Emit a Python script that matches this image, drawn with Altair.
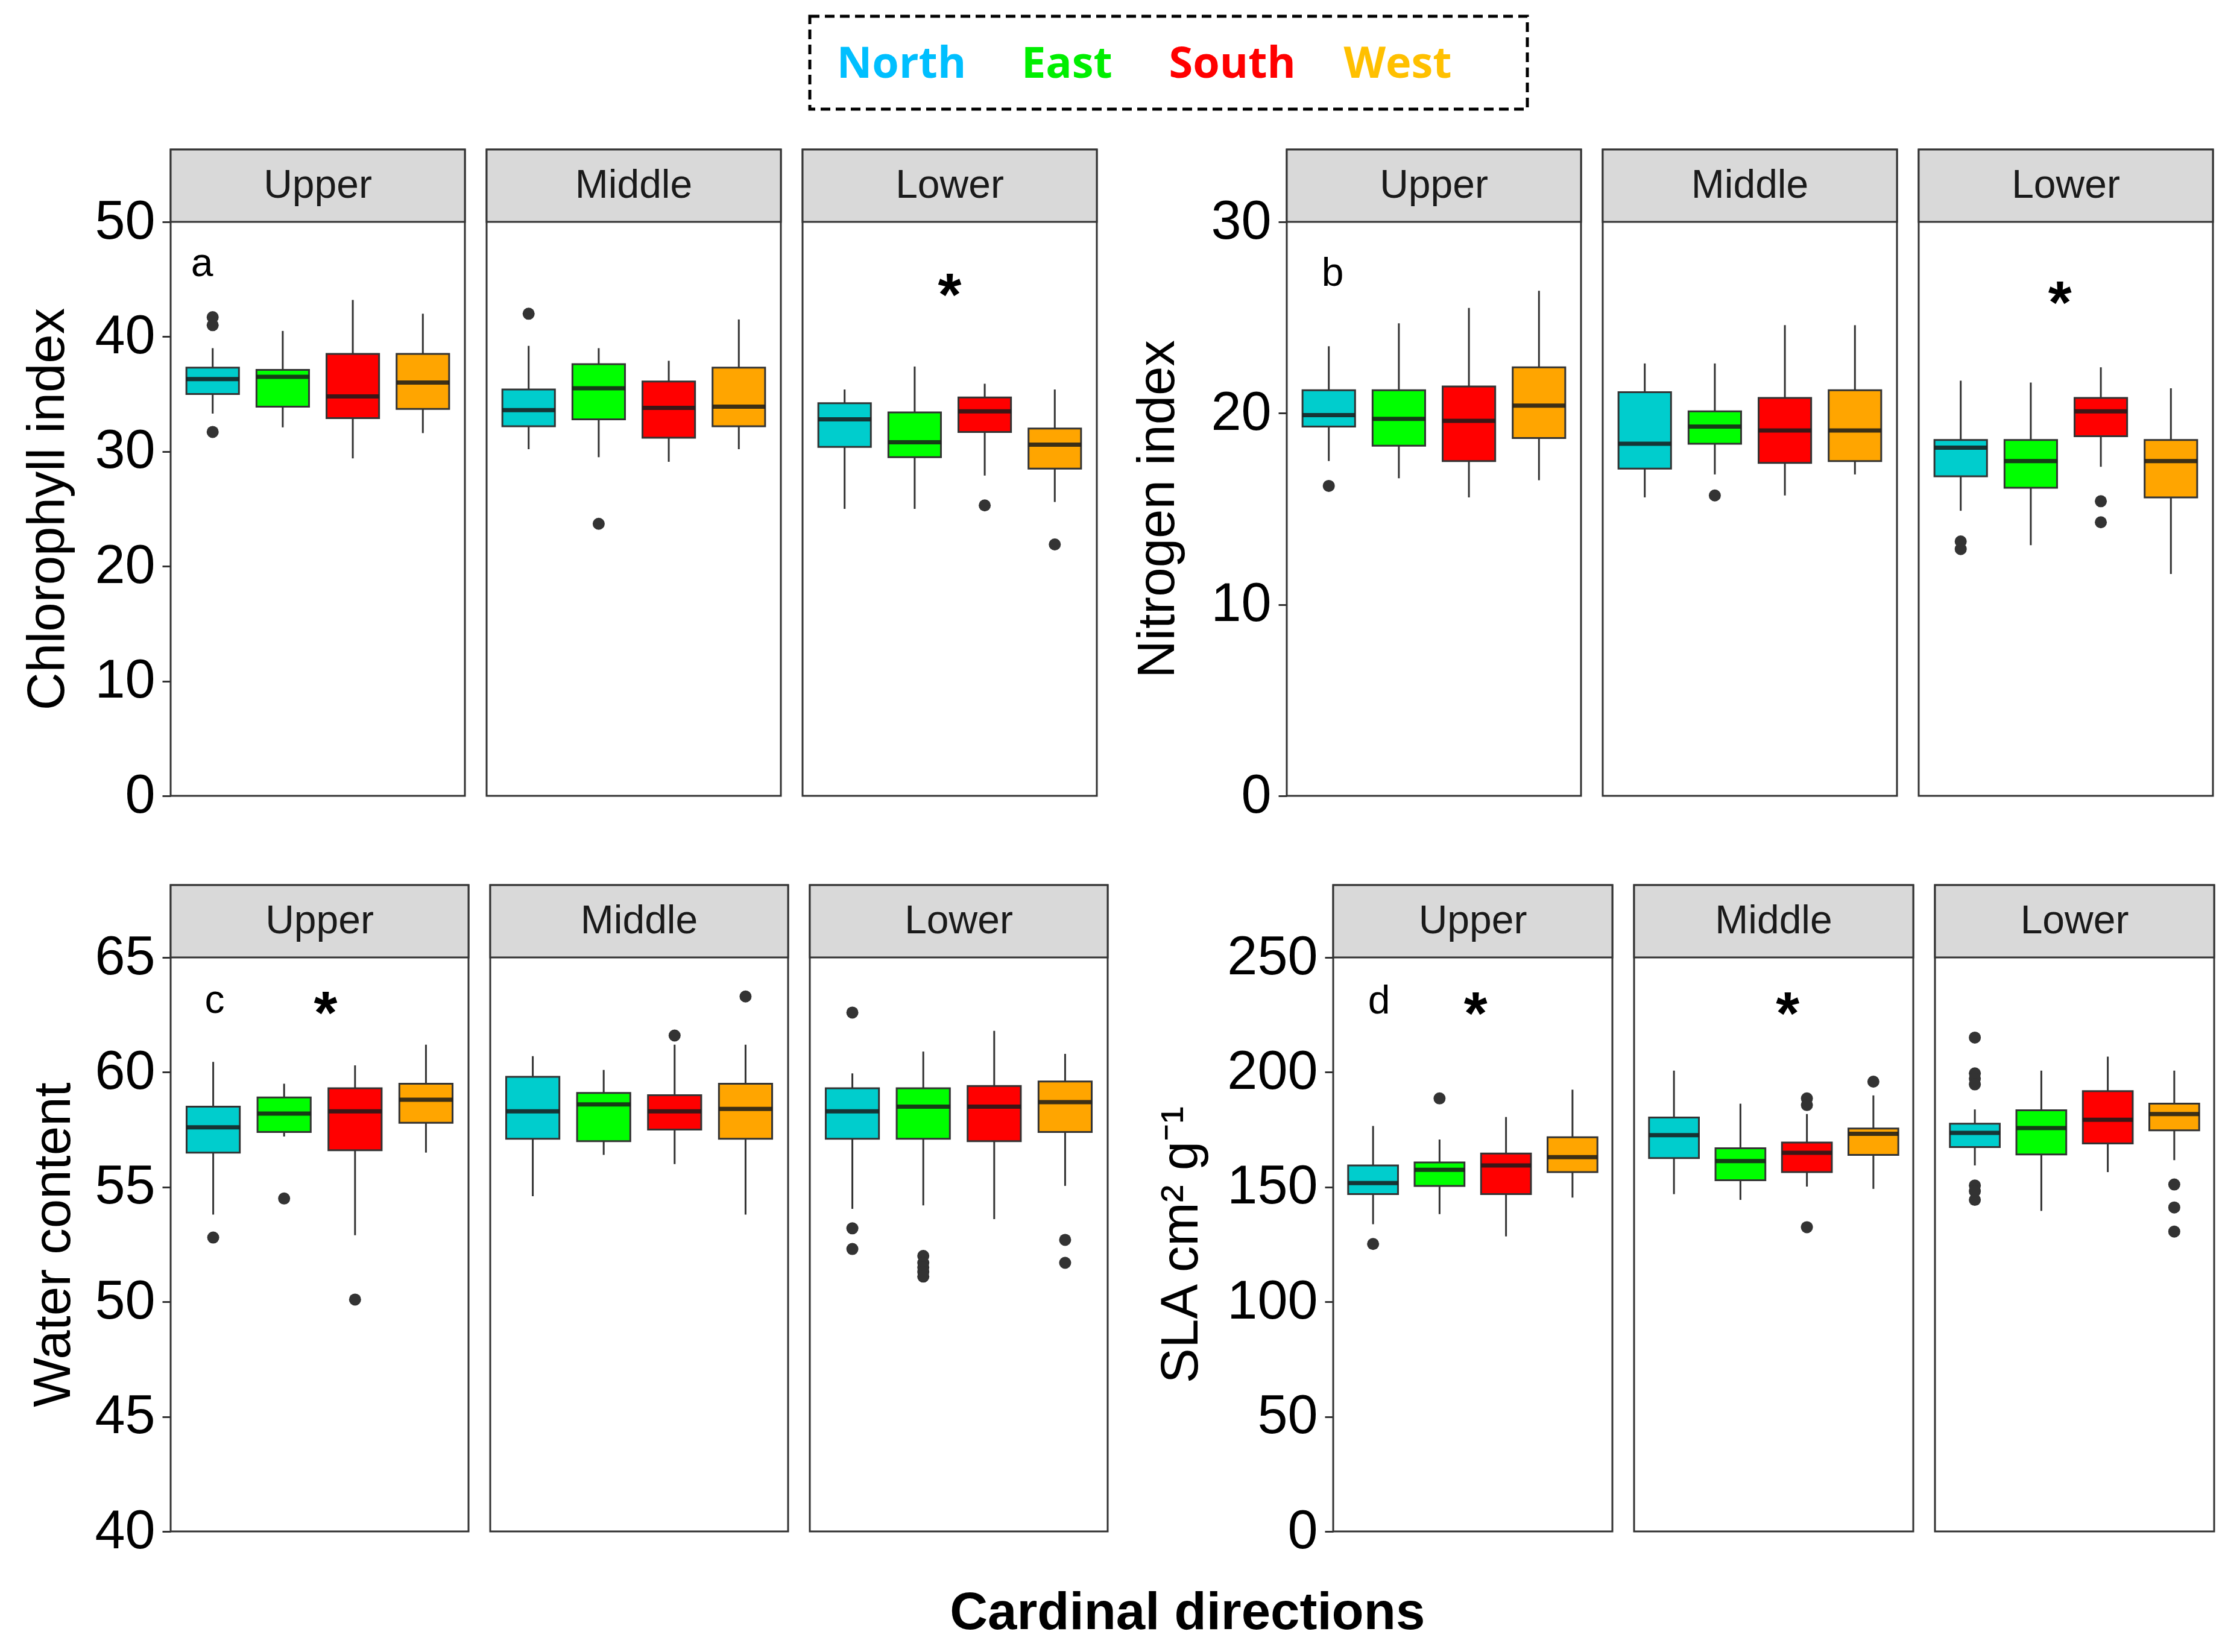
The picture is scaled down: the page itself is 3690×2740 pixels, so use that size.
import altair as alt
import pandas as pd

DIRS = ["North", "East", "South", "West"]
POSITIONS = ["Upper", "Middle", "Lower"]
BOX_FILL = ["#00CDCD", "#00FF00", "#FF0000", "#FFA500"]
LEGEND_COLORS = ["#00BFFF", "#00EE00", "#FF0000", "#FFC000"]

# Order of the 12 values: Upper N,E,S,W | Middle N,E,S,W | Lower N,E,S,W
# (a) Chlorophyll index
chl_lo = [33.3, 32.1, 29.4, 31.6, 30.2, 29.5, 29.1, 30.2, 25.0, 25.0, 27.9, 25.6]
chl_q1 = [35.0, 33.9, 32.9, 33.7, 32.2, 32.8, 31.2, 32.2, 30.4, 29.5, 31.7, 28.5]
chl_med = [36.3, 36.5, 34.8, 36.0, 33.6, 35.5, 33.8, 33.9, 32.8, 30.8, 33.5, 30.6]
chl_q3 = [37.3, 37.1, 38.5, 38.5, 35.4, 37.6, 36.1, 37.3, 34.2, 33.4, 34.7, 32.0]
chl_hi = [39.0, 40.5, 43.2, 42.0, 39.2, 39.0, 37.9, 41.5, 35.4, 37.4, 35.9, 35.4]
chl_out_pos = ["Upper", "Upper", "Upper", "Middle", "Middle", "Lower", "Lower"]
chl_out_dir = ["North", "North", "North", "North", "East", "South", "West"]
chl_out_val = [41.7, 41.0, 31.7, 42.0, 23.7, 25.3, 21.9]

# (b) Nitrogen index
nit_lo = [17.5, 16.6, 15.6, 16.5, 15.6, 16.8, 15.7, 16.8, 14.9, 13.1, 17.2, 11.6]
nit_q1 = [19.3, 18.3, 17.5, 18.7, 17.1, 18.4, 17.4, 17.5, 16.7, 16.1, 18.8, 15.6]
nit_med = [19.9, 19.7, 19.6, 20.4, 18.4, 19.3, 19.1, 19.1, 18.2, 17.5, 20.1, 17.5]
nit_q3 = [21.2, 21.2, 21.4, 22.4, 21.1, 20.1, 20.8, 21.2, 18.6, 18.6, 20.8, 18.6]
nit_hi = [23.5, 24.7, 25.5, 26.4, 22.6, 22.6, 24.6, 24.6, 21.7, 21.6, 22.4, 21.3]
nit_out_pos = ["Upper", "Middle", "Lower", "Lower", "Lower", "Lower"]
nit_out_dir = ["North", "East", "North", "North", "South", "South"]
nit_out_val = [16.2, 15.7, 13.3, 12.9, 15.4, 14.3]

# (c) Water content
wat_lo = [53.8, 57.2, 52.9, 56.5, 54.6, 56.4, 56.0, 53.8, 54.05, 54.2, 53.6, 55.05]
wat_q1 = [56.5, 57.4, 56.6, 57.8, 57.1, 57.0, 57.5, 57.1, 57.1, 57.1, 57.0, 57.4]
wat_med = [57.6, 58.2, 58.3, 58.8, 58.3, 58.6, 58.3, 58.4, 58.3, 58.5, 58.5, 58.7]
wat_q3 = [58.5, 58.9, 59.3, 59.5, 59.8, 59.1, 59.0, 59.5, 59.3, 59.3, 59.4, 59.6]
wat_hi = [60.45, 59.5, 60.3, 61.2, 60.7, 60.1, 61.2, 61.2, 59.95, 60.9, 61.8, 60.8]
wat_out_pos = ["Upper", "Upper", "Upper", "Middle", "Middle", "Lower", "Lower", "Lower",
               "Lower", "Lower", "Lower", "Lower", "Lower", "Lower", "Lower"]
wat_out_dir = ["North", "East", "South", "South", "West", "North", "North", "North",
               "East", "East", "East", "East", "East", "West", "West"]
wat_out_val = [52.8, 54.5, 50.1, 61.6, 63.3, 62.6, 53.2, 52.3,
               52.0, 51.7, 51.5, 51.3, 51.1, 52.7, 51.7]

# (d) SLA cm2 g-1
sla_lo = [133.8, 138.2, 128.5, 145.4, 146.9, 144.4, 150.2, 149.2, 159.4, 139.6, 156.5, 161.7]
sla_q1 = [146.9, 150.5, 146.9, 156.5, 162.6, 153.0, 156.5, 164.0, 167.4, 164.2, 169.0, 174.7]
sla_med = [151.7, 157.5, 159.4, 163.0, 172.6, 161.3, 164.9, 173.2, 173.6, 175.7, 179.3, 181.8]
sla_q3 = [159.4, 160.7, 164.6, 171.7, 180.3, 166.9, 169.4, 175.5, 177.6, 183.4, 191.8, 186.3]
sla_hi = [176.6, 170.7, 180.5, 192.4, 200.7, 186.3, 181.8, 189.9, 183.8, 200.7, 206.8, 200.7]
sla_out_pos = ["Upper", "Upper", "Middle", "Middle", "Middle", "Middle", "Lower", "Lower",
               "Lower", "Lower", "Lower", "Lower", "Lower", "Lower", "Lower", "Lower"]
sla_out_dir = ["North", "East", "South", "South", "South", "West", "North", "North",
               "North", "North", "North", "North", "North", "West", "West", "West"]
sla_out_val = [125.2, 188.6, 188.6, 185.7, 132.5, 195.9, 215.1, 199.5,
               197.2, 194.7, 150.7, 148.2, 144.4, 151.1, 141.1, 130.6]

STRIP_H = 120
PLOT_H = 952
BORDER = "#333333"
FONT = "Liberation Sans"
PLOT_ORIGIN_X = 283  # page x of the first panel (legend shares this origin)


def box_table(lo, q1, med, q3, hi):
    pos = [p for p in POSITIONS for _ in DIRS]
    dirs = DIRS * len(POSITIONS)
    return pd.DataFrame({"pos": pos, "dir": dirs, "lo": lo, "q1": q1,
                         "med": med, "q3": q3, "hi": hi})


def out_table(pos, dirs, vals):
    return pd.DataFrame({"pos": pos, "dir": dirs, "val": vals})


def make_panel(box_df, out_df, pos, ymin, ymax, ticks, title, width, first,
               title_x, letter=None, letter_x=0, letter_y=None,
               star_y=None, star_frac=0.5):
    ext = (ymax - ymin) * STRIP_H / PLOT_H
    yscale = alt.Scale(domain=[ymin, ymax + ext], nice=False, zero=False)
    if first:
        yaxis = alt.Axis(values=ticks, titleX=title_x, titleY=STRIP_H + PLOT_H / 2,
                         titleAngle=-90, titleBaseline="bottom")
    else:
        yaxis = None

    def Y(field):
        return alt.Y(field, scale=yscale, axis=yaxis, title=title)

    xenc = alt.X("dir:N", sort=DIRS,
                 scale=alt.Scale(domain=DIRS, paddingInner=0.25, paddingOuter=0.225),
                 axis=None)
    bw = width / 4.2 * 0.75
    bd = box_df[box_df["pos"] == pos]
    od = out_df[out_df["pos"] == pos]

    whisk = alt.Chart(bd).mark_rule(color=BORDER, strokeWidth=3).encode(
        x=xenc, y=Y("lo:Q"), y2="hi:Q")
    box = alt.Chart(bd).mark_bar(stroke=BORDER, strokeWidth=3, opacity=1).encode(
        x=xenc, y=Y("q1:Q"), y2="q3:Q",
        fill=alt.Fill("dir:N", scale=alt.Scale(domain=DIRS, range=BOX_FILL), legend=None))
    med = alt.Chart(bd).mark_tick(color="#1a1a1a", thickness=7, size=bw, opacity=0.85).encode(
        x=xenc, y=Y("med:Q"))
    layers = [whisk, box, med]
    if len(od):
        pts = alt.Chart(od).mark_circle(size=400, color=BORDER, opacity=1).encode(
            x=xenc, y=Y("val:Q"))
        layers.append(pts)
    if letter is not None:
        lt = alt.Chart(pd.DataFrame({"t": [letter], "v": [letter_y]})).mark_text(
            font=FONT, fontSize=66, color="#000000", baseline="middle").encode(
            x=alt.value(letter_x), y=Y("v:Q"), text="t:N")
        layers.append(lt)
    if star_y is not None:
        st = alt.Chart(pd.DataFrame({"t": ["*"], "v": [star_y]})).mark_text(
            font=FONT, fontSize=100, fontWeight="bold", color="#000000",
            baseline="middle", dy=24).encode(
            x=alt.value(width * star_frac), y=Y("v:Q"), text="t:N")
        layers.append(st)
    one = pd.DataFrame({"label": [pos]})
    strip_bg = alt.Chart(one).mark_rect(fill="#D9D9D9", stroke=BORDER, strokeWidth=3).encode(
        x=alt.value(0), x2=alt.value(width), y=alt.value(0), y2=alt.value(STRIP_H))
    strip_tx = alt.Chart(one).mark_text(font=FONT, fontSize=66, color="#1A1A1A",
                                        baseline="middle").encode(
        x=alt.value(width / 2), y=alt.value(STRIP_H / 2), text="label:N")
    layers += [strip_bg, strip_tx]
    return alt.layer(*layers).properties(width=width, height=STRIP_H + PLOT_H)


def make_quad(box_df, out_df, ymin, ymax, ticks, title, width, title_x, letter,
              letter_x, letter_y, stars):
    panels = []
    for i, p in enumerate(POSITIONS):
        sy, sf = stars.get(p, (None, 0.5))
        panels.append(make_panel(box_df, out_df, p, ymin, ymax, ticks, title, width,
                                 i == 0, title_x,
                                 letter if i == 0 else None, letter_x, letter_y,
                                 sy, sf))
    return alt.hconcat(*panels, spacing=30)


chl_box = box_table(chl_lo, chl_q1, chl_med, chl_q3, chl_hi)
chl_out = out_table(chl_out_pos, chl_out_dir, chl_out_val)
nit_box = box_table(nit_lo, nit_q1, nit_med, nit_q3, nit_hi)
nit_out = out_table(nit_out_pos, nit_out_dir, nit_out_val)
wat_box = box_table(wat_lo, wat_q1, wat_med, wat_q3, wat_hi)
wat_out = out_table(wat_out_pos, wat_out_dir, wat_out_val)
sla_box = box_table(sla_lo, sla_q1, sla_med, sla_q3, sla_hi)
sla_out = out_table(sla_out_pos, sla_out_dir, sla_out_val)

quad_a = make_quad(chl_box, chl_out, 0, 50, [0, 10, 20, 30, 40, 50], "Chlorophyll index",
                   488, -160, "a", 52, 46.3, {"Lower": (44.7, 0.5)})
quad_b = make_quad(nit_box, nit_out, 0, 30, [0, 10, 20, 30], "Nitrogen index",
                   488, -170, "b", 76, 27.3, {"Lower": (26.4, 0.48)})
quad_c = make_quad(wat_box, wat_out, 40, 65, [40, 45, 50, 55, 60, 65], "Water content",
                   494, -150, "c", 73, 63.1, {"Upper": (63.1, 0.52)})
quad_d = make_quad(sla_box, sla_out, 0, 250, [0, 50, 100, 150, 200, 250], "SLA cm² g⁻¹",
                   463, -208, "d", 76, 230.7,
                   {"Upper": (230.7, 0.51), "Middle": (230.7, 0.55)})

row1 = alt.hconcat(quad_a, quad_b, spacing=52)
row2 = alt.hconcat(quad_c, quad_d, spacing=73)
body = alt.vconcat(row1, row2, spacing=98)

# legend: dashed frame with coloured direction names (positions relative to the
# shared left origin of the panels)
LEG_X0 = 1343 - PLOT_ORIGIN_X
LEG_X1 = 2533 - PLOT_ORIGIN_X
LEG_TEXT_X = [1495 - PLOT_ORIGIN_X, 2318 - PLOT_ORIGIN_X]
frame = alt.Chart(pd.DataFrame({"k": [0]})).mark_rect(
    fill="white", stroke="#000000", strokeWidth=5, strokeDash=[16, 9]).encode(
    x=alt.value(LEG_X0), x2=alt.value(LEG_X1), y=alt.value(12), y2=alt.value(166))
names = alt.Chart(pd.DataFrame({"dir": DIRS})).mark_text(
    font="Open Sans", fontWeight="bold", fontSize=72, baseline="middle").encode(
    x=alt.X("dir:N", sort=DIRS,
            scale=alt.Scale(type="point", domain=DIRS, range=LEG_TEXT_X, padding=0),
            axis=None),
    y=alt.value(92), text="dir:N",
    color=alt.Color("dir:N", scale=alt.Scale(domain=DIRS, range=LEGEND_COLORS), legend=None))
legend = alt.layer(frame, names).properties(
    width=LEG_X1 + 10, height=173, view=alt.ViewBackground(stroke="transparent"))

chart = alt.vconcat(legend, body, spacing=55).properties(
    background="white",
    padding={"left": 25, "top": 5, "right": 5, "bottom": 5},
    title=alt.TitleParams("Cardinal directions", orient="bottom", anchor="middle",
                          font=FONT, fontSize=87, fontWeight="bold", color="#000000",
                          offset=46, dx=115)
).configure_view(
    stroke=BORDER, strokeWidth=3
).configure_axis(
    labelFont=FONT, labelFontSize=90, labelColor="#000000",
    tickColor=BORDER, tickWidth=3, tickSize=14, labelPadding=12,
    domain=False, grid=False,
    titleFont=FONT, titleFontSize=87, titleFontWeight="normal", titleColor="#000000"
)

chart.save("out.html", embed_options={"renderer": "svg", "actions": False})
